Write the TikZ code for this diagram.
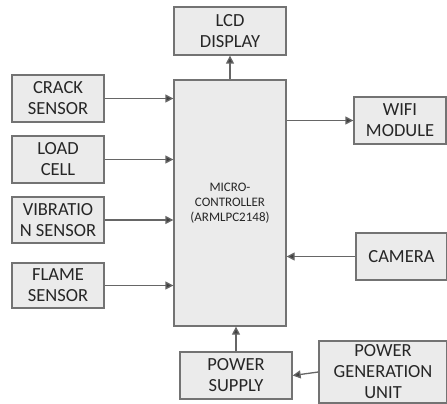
\documentclass[tikz,border=0pt]{standalone}
\usepackage{fontspec}
\setmainfont{Carlito}
\usetikzlibrary{arrows.meta}

\begin{document}
\begin{tikzpicture}[x=1pt,y=-1pt,
  blk/.style={draw=black!55, fill=black!8, line width=1.3pt, align=center,
    inner sep=0pt, font=\fontsize{18.5}{21}\selectfont, text=black!85},
  link/.style={draw=black!60, line width=1.3pt,
    -{Triangle[length=8pt,width=8pt,fill=black!75]}}]
%\draw[help lines] (0,0) grid (447,404);
\useasboundingbox (0,0) rectangle (447,404);

% controller and display
\node[blk, minimum width=112, minimum height=246,
  font=\fontsize{13}{15}\selectfont] (mcu) at (230,203)
  {MICRO-\\CONTROLLER\\(ARMLPC2148)};
\node[blk, minimum width=112, minimum height=48] (lcd) at (230,31) {LCD\\DISPLAY};

% sensors
\node[blk, minimum width=92, minimum height=47] (crack) at (58,98.5) {CRACK\\SENSOR};
\node[blk, minimum width=92, minimum height=47] (load) at (58,159.5) {LOAD\\CELL};
\node[blk, minimum width=92, minimum height=46] (vib) at (58,220) {VIBRATIO\\N SENSOR};
\node[blk, minimum width=92, minimum height=45] (flame) at (58,285.5) {FLAME\\SENSOR};

% right side
\node[blk, minimum width=92, minimum height=47] (wifi) at (400,120.5) {WIFI\\MODULE};
\node[blk, minimum width=91, minimum height=47] (camera) at (401.5,256.5) {CAMERA};

% power
\node[blk, minimum width=112, minimum height=47] (supply) at (236,375.5) {POWER\\SUPPLY};
\node[blk, minimum width=128, minimum height=62] (gen) at (383,372) {POWER\\GENERATION\\UNIT};

\draw[link] (crack.east) -- (crack.east -| mcu.west);
\draw[link] (load.east) -- (load.east -| mcu.west);
\draw[link] (vib.east) -- (vib.east -| mcu.west);
\draw[link] (flame.east) -- (flame.east -| mcu.west);
\draw[link] (mcu.north) -- (lcd.south);
\draw[link] (mcu.east |- wifi.west) -- (wifi.west);
\draw[link] (camera.west) -- (camera.west -| mcu.east);
\draw[link] (supply.north) -- (supply.north |- mcu.south);
\draw[link] (gen.west) -- (supply.east);
\end{tikzpicture}
\end{document}
